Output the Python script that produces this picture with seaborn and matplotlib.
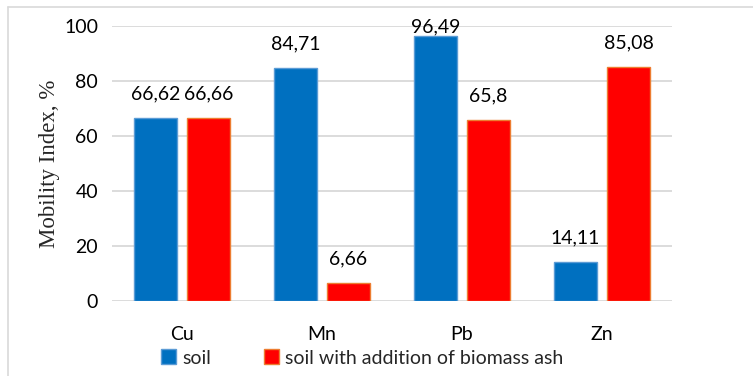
import pandas as pd
import numpy as np
import matplotlib.pyplot as plt
import seaborn as sns
from matplotlib.lines import Line2D
from matplotlib.patches import Patch

# Data
metals = ["Cu", "Mn", "Pb", "Zn"]
soil = [66.62, 84.71, 96.49, 14.11]
soil_ash = [66.66, 6.66, 65.8, 85.08]
soil_lbl = ["66,62", "84,71", "96,49", "14,11"]
ash_lbl = ["66,66", "6,66", "65,8", "85,08"]
series = ["soil", "soil with addition of biomass ash"]

df = pd.DataFrame({
    "metal": metals * 2,
    "value": soil + soil_ash,
    "series": [series[0]] * 4 + [series[1]] * 4,
})

sns.set_theme(style="white")
plt.rcParams["font.family"] = ["Lato", "DejaVu Sans"]

fills = ["#0070C0", "#FF0000"]
edges = ["#5B9BD5", "#ED7D31"]

fig = plt.figure(figsize=(7.53, 3.76), dpi=100)
ax = fig.add_axes([112 / 753, 75 / 376, 560 / 753, 275 / 376])

sns.barplot(data=df, x="metal", y="value", hue="series", palette=fills,
            saturation=1, width=0.757, gap=0.17, ax=ax, legend=False, zorder=3)

for cont, ec in zip(ax.containers, edges):
    for bar in cont:
        bar.set_edgecolor(ec)
        bar.set_linewidth(1.0)

# value labels, kept inside the plot area like excel does
for cont, labels in zip(ax.containers, [soil_lbl, ash_lbl]):
    for bar, txt in zip(cont, labels):
        h = bar.get_height()
        y = min(h + 8.7, 99.6)
        ax.text(bar.get_x() + bar.get_width() / 2, y, txt, ha="center",
                va="center", fontsize=14, color="#000000")

ax.set_ylim(0, 100)
ax.set_xlim(-0.5, 3.5)
ax.set_yticks(range(0, 101, 20))
ax.yaxis.grid(True, color="#D9D9D9", linewidth=1.3, zorder=0)
ax.set_axisbelow(True)
for s in ax.spines.values():
    s.set_visible(False)
ax.tick_params(axis="both", length=0, labelsize=14, colors="#000000")
ax.tick_params(axis="x", pad=18)
ax.tick_params(axis="y", pad=10)
ax.set_xlabel("")
ax.set_ylabel("Mobility Index, %", family=["Liberation Serif"], fontsize=16.5,
              labelpad=3)

handles = [Patch(facecolor=f, edgecolor=e, linewidth=1.0) for f, e in zip(fills, edges)]
fig.legend(handles, series, loc="center", bbox_to_anchor=(362 / 753, 1 - 358 / 376),
           ncol=2, frameon=False, fontsize=14, handlelength=0.8, handleheight=0.8,
           handletextpad=0.3, columnspacing=2.7, borderaxespad=0)

# chart area border (only left and top visible in the crop)
fig.add_artist(Line2D([8 / 753, 8 / 753], [0, 1 - 7 / 376], transform=fig.transFigure,
                      color="#D9D9D9", linewidth=1.2))
fig.add_artist(Line2D([8 / 753, 1], [1 - 7 / 376, 1 - 7 / 376], transform=fig.transFigure,
                      color="#D9D9D9", linewidth=1.2))

fig.savefig("out.png", dpi=100)
plt.close()
